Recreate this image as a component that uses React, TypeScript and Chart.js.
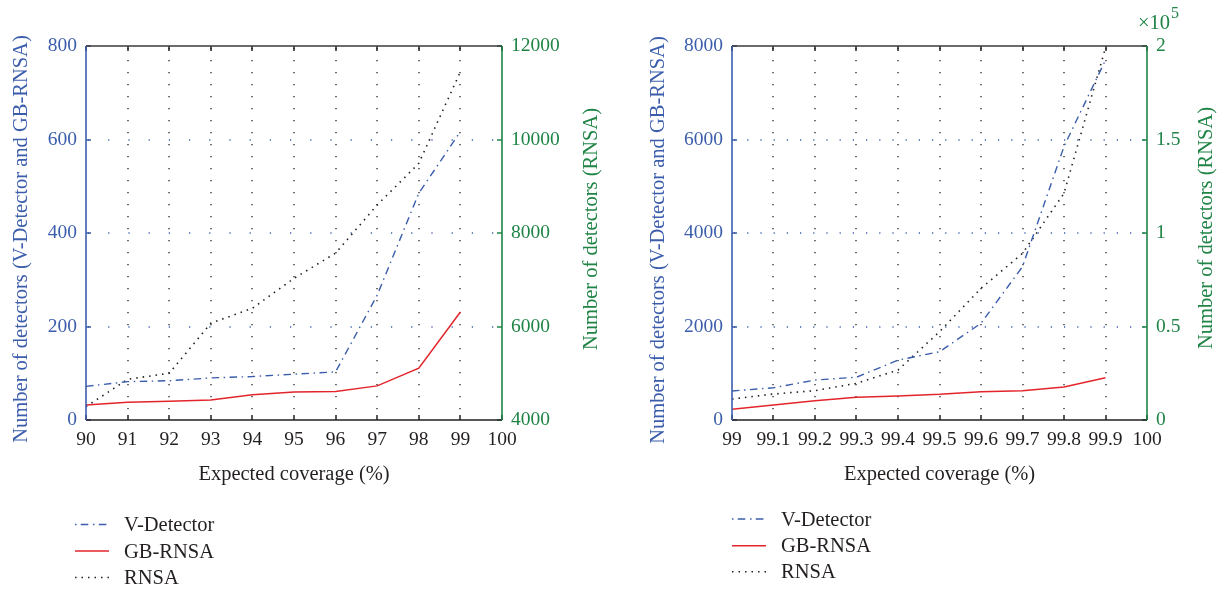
import React, { useEffect, useRef } from "react";
import { Chart, registerables } from "chart.js";

Chart.register(...registerables);

// ---- data ---------------------------------------------------------------

// Left panel: expected coverage 90–99 %
const coverageLow = [90, 91, 92, 93, 94, 95, 96, 97, 98, 99];
const vDetectorLow = [72, 82, 84, 90, 93, 98, 103, 267, 485, 617];
const gbRnsaLow = [32, 38, 40, 43, 54, 60, 61, 73, 111, 231];
const rnsaLow = [4285, 4870, 5000, 6070, 6390, 7030, 7570, 8600, 9490, 11450];

// Right panel: expected coverage 99.0–99.9 %
const coverageHigh = [99.0, 99.1, 99.2, 99.3, 99.4, 99.5, 99.6, 99.7, 99.8, 99.9];
const vDetectorHigh = [620, 690, 855, 915, 1280, 1460, 2070, 3280, 5850, 7700];
const gbRnsaHigh = [228, 320, 413, 485, 513, 549, 606, 627, 706, 906];
const rnsaHigh = [11200, 13900, 15700, 19600, 26700, 47200, 70400, 89100, 121200, 199000];

const seriesNames = ["V-Detector", "GB-RNSA", "RNSA"];
const xTitle = "Expected coverage (%)";
const leftAxisTitle = "Number of detectors (V-Detector and GB-RNSA)";
const rightAxisTitle = "Number of detectors (RNSA)";

// ---- styling ------------------------------------------------------------

const BLUE = "#3b5dab";
const GREEN = "#1f8446";
const RED = "#e3252b";
const INK = "#231f20";
const SERIF = "'Liberation Serif', 'Times New Roman', serif";
const TICK_FONT = { family: SERIF, size: 19.5 };
const TEXT_PX = 20.5;

const DASH_DOT = [7.5, 4.5, 1.5, 4.5];
const DOTS = [1.5, 5];

type PanelSpec = {
  width: number;
  coverage: number[];
  vDetector: number[];
  gbRnsa: number[];
  rnsa: number[];
  x: { min: number; max: number; step: number };
  y: { min: number; max: number; step: number };
  y1: { min: number; max: number; step: number; fmt: (v: number) => string };
  area: { left: number; right: number; top: number; bottom: number };
  hGridDash: number[];
  leftTitleX: number;
  leftTitleY: number;
  rightTitleX: number;
  rightTitleY: number;
  xTitleY: number;
  legend: { x0: number; x1: number; textX: number; rows: number[] };
  exponent?: { x: number; y: number };
};

const panelLow: PanelSpec = {
  width: 609,
  coverage: coverageLow,
  vDetector: vDetectorLow,
  gbRnsa: gbRnsaLow,
  rnsa: rnsaLow,
  x: { min: 90, max: 100, step: 1 },
  y: { min: 0, max: 800, step: 200 },
  y1: { min: 4000, max: 12000, step: 2000, fmt: (v) => String(v) },
  area: { left: 86, right: 502, top: 46, bottom: 420 },
  hGridDash: [1.2, 19],
  leftTitleX: 27,
  leftTitleY: 239,
  rightTitleX: 597,
  rightTitleY: 229,
  xTitleY: 480,
  legend: { x0: 75, x1: 109, textX: 124, rows: [524.5, 551, 577.5] },
};

const panelHigh: PanelSpec = {
  width: 610,
  coverage: coverageHigh,
  vDetector: vDetectorHigh,
  gbRnsa: gbRnsaHigh,
  rnsa: rnsaHigh,
  x: { min: 99, max: 100, step: 0.1 },
  y: { min: 0, max: 8000, step: 2000 },
  y1: { min: 0, max: 200000, step: 50000, fmt: (v) => String(Math.round(v / 1e4) / 10) },
  area: { left: 123, right: 538, top: 46, bottom: 420 },
  hGridDash: [1.2, 12],
  leftTitleX: 55,
  leftTitleY: 240,
  rightTitleX: 603,
  rightTitleY: 228,
  xTitleY: 480,
  legend: { x0: 123, x1: 157, textX: 172, rows: [519, 545.8, 571.7] },
  exponent: { x: 529, y: 29 },
};

// ---- custom drawing: dotted grid, framed box with inward ticks, titles, legend

function seg(ctx: CanvasRenderingContext2D, x1: number, y1: number, x2: number, y2: number) {
  ctx.beginPath();
  ctx.moveTo(x1, y1);
  ctx.lineTo(x2, y2);
  ctx.stroke();
}

const framePlugin = {
  id: "frame",
  beforeDatasetsDraw(chart: any, _args: any, opts: any) {
    const spec: PanelSpec = opts.spec;
    const { ctx, chartArea: a, scales } = chart;
    ctx.save();
    ctx.lineWidth = 1.3;
    ctx.lineCap = "butt";
    // vertical dotted grid at interior x ticks
    ctx.strokeStyle = INK;
    ctx.setLineDash([1.2, 10.8]);
    ctx.lineDashOffset = -2;
    for (const t of scales.x.ticks) {
      const px = Math.round(scales.x.getPixelForValue(t.value));
      if (px > a.left + 2 && px < a.right - 2) seg(ctx, px, a.top, px, a.bottom);
    }
    // horizontal dotted grid at interior left-axis ticks
    ctx.strokeStyle = BLUE;
    ctx.setLineDash(spec.hGridDash);
    for (const t of scales.y.ticks) {
      const py = Math.round(scales.y.getPixelForValue(t.value));
      if (py > a.top + 2 && py < a.bottom - 2) seg(ctx, a.left, py, a.right, py);
    }
    ctx.restore();
  },
  afterDatasetsDraw(chart: any, _args: any, opts: any) {
    const spec: PanelSpec = opts.spec;
    const { ctx, chartArea: a, scales } = chart;
    const L = Math.round(a.left), R = Math.round(a.right), T = Math.round(a.top), B = Math.round(a.bottom);
    ctx.save();
    ctx.setLineDash([]);
    ctx.lineWidth = 1.5;
    // inward tick marks
    ctx.strokeStyle = INK;
    for (const t of scales.x.ticks) {
      const px = Math.round(scales.x.getPixelForValue(t.value));
      seg(ctx, px, B, px, B - 5);
      seg(ctx, px, T, px, T + 5);
    }
    ctx.strokeStyle = BLUE;
    for (const t of scales.y.ticks) {
      const py = Math.round(scales.y.getPixelForValue(t.value));
      seg(ctx, L, py, L + 5, py);
    }
    ctx.strokeStyle = GREEN;
    for (const t of scales.y1.ticks) {
      const py = Math.round(scales.y1.getPixelForValue(t.value));
      seg(ctx, R, py, R - 5, py);
    }
    // box
    ctx.lineWidth = 1.6;
    ctx.strokeStyle = "#3a3a3a";
    seg(ctx, L, T, R, T);
    ctx.strokeStyle = INK;
    seg(ctx, L, B, R, B);
    ctx.strokeStyle = BLUE;
    seg(ctx, L, T, L, B);
    ctx.strokeStyle = GREEN;
    seg(ctx, R, T, R, B);

    // axis titles
    ctx.font = `${TEXT_PX}px ${SERIF}`;
    ctx.textBaseline = "alphabetic";
    ctx.textAlign = "center";
    ctx.fillStyle = INK;
    ctx.fillText(xTitle, (L + R) / 2, spec.xTitleY);

    ctx.save();
    ctx.translate(spec.leftTitleX, spec.leftTitleY);
    ctx.rotate(-Math.PI / 2);
    ctx.fillStyle = BLUE;
    ctx.fillText(leftAxisTitle, 0, 0);
    ctx.restore();

    ctx.save();
    ctx.translate(spec.rightTitleX, spec.rightTitleY);
    ctx.rotate(-Math.PI / 2);
    ctx.fillStyle = GREEN;
    ctx.fillText(rightAxisTitle, 0, 0);
    ctx.restore();

    // exponent of the right axis
    if (spec.exponent) {
      ctx.fillStyle = GREEN;
      ctx.textAlign = "left";
      ctx.font = `${TEXT_PX}px ${SERIF}`;
      ctx.fillText("×10", spec.exponent.x, spec.exponent.y);
      const w = ctx.measureText("×10").width;
      ctx.font = `${TEXT_PX * 0.78}px ${SERIF}`;
      ctx.fillText("5", spec.exponent.x + w + 1, spec.exponent.y - 11);
    }

    // legend
    const lg = spec.legend;
    chart.data.datasets.forEach((ds: any, row: number) => {
      const cy = lg.rows[row];
      ctx.save();
      ctx.strokeStyle = ds.borderColor;
      ctx.lineWidth = ds.borderWidth;
      const dash = ds.label === seriesNames[0] ? [1.5, 4.2, 7.6, 4.8] : ds.borderDash || [];
      ctx.setLineDash(dash);
      seg(ctx, lg.x0, cy, lg.x1, cy);
      ctx.restore();
      ctx.fillStyle = INK;
      ctx.textAlign = "left";
      ctx.font = `${TEXT_PX}px ${SERIF}`;
      ctx.fillText(ds.label, lg.textX, cy + 6.5);
    });
    ctx.restore();
  },
};

function buildConfig(spec: PanelSpec): any {
  const pts = (vals: number[]) => spec.coverage.map((c, i) => ({ x: c, y: vals[i] }));
  const a = spec.area;
  const axisCommon = {
    grid: { display: false, drawTicks: false },
    border: { display: false },
  };
  return {
    type: "line",
    data: {
      datasets: [
        {
          label: seriesNames[0],
          data: pts(spec.vDetector),
          yAxisID: "y",
          borderColor: BLUE,
          borderWidth: 1.4,
          borderDash: DASH_DOT,
          pointRadius: 0,
          fill: false,
          tension: 0,
        },
        {
          label: seriesNames[1],
          data: pts(spec.gbRnsa),
          yAxisID: "y",
          borderColor: RED,
          borderWidth: 1.5,
          pointRadius: 0,
          fill: false,
          tension: 0,
        },
        {
          label: seriesNames[2],
          data: pts(spec.rnsa),
          yAxisID: "y1",
          borderColor: INK,
          borderWidth: 1.6,
          borderDash: DOTS,
          pointRadius: 0,
          fill: false,
          tension: 0,
        },
      ],
    },
    options: {
      responsive: false,
      animation: false,
      devicePixelRatio: 1,
      layout: { padding: { top: a.top, left: 0, right: 0, bottom: 0 } },
      plugins: {
        legend: { display: false },
        title: { display: false },
        tooltip: { enabled: false },
        frame: { spec },
      },
      scales: {
        x: {
          type: "linear",
          min: spec.x.min,
          max: spec.x.max,
          ...axisCommon,
          ticks: {
            stepSize: spec.x.step,
            color: INK,
            font: TICK_FONT,
            padding: 8,
            maxRotation: 0,
            autoSkip: false,
            callback: (v: number) => String(Math.round(v * 10) / 10),
          },
          afterFit: (s: any) => {
            s.height = 590 - a.bottom;
          },
        },
        y: {
          type: "linear",
          position: "left",
          min: spec.y.min,
          max: spec.y.max,
          ...axisCommon,
          ticks: {
            stepSize: spec.y.step,
            color: BLUE,
            font: TICK_FONT,
            padding: 9,
            callback: (v: number) => String(Math.round(v)),
          },
          afterFit: (s: any) => {
            s.width = a.left;
          },
        },
        y1: {
          type: "linear",
          position: "right",
          min: spec.y1.min,
          max: spec.y1.max,
          ...axisCommon,
          ticks: {
            stepSize: spec.y1.step,
            color: GREEN,
            font: TICK_FONT,
            padding: 9,
            callback: (v: number) => spec.y1.fmt(v),
          },
          afterFit: (s: any) => {
            s.width = spec.width - a.right;
          },
        },
      },
    },
    plugins: [framePlugin],
  };
}

function PanelChart({ spec, left }: { spec: PanelSpec; left: number }) {
  const ref = useRef<HTMLCanvasElement | null>(null);
  useEffect(() => {
    if (!ref.current) return;
    const chart = new Chart(ref.current, buildConfig(spec));
    return () => chart.destroy();
  }, [spec]);
  return (
    <div style={{ position: "absolute", left, top: 0, width: spec.width, height: 590 }}>
      <canvas ref={ref} width={spec.width} height={590} style={{ display: "block" }} />
    </div>
  );
}

export default function App() {
  return (
    <div
      style={{
        position: "absolute",
        left: 0,
        top: 0,
        width: 1219,
        height: 590,
        background: "#ffffff",
        overflow: "hidden",
      }}
    >
      <PanelChart spec={panelLow} left={0} />
      <PanelChart spec={panelHigh} left={609} />
    </div>
  );
}
